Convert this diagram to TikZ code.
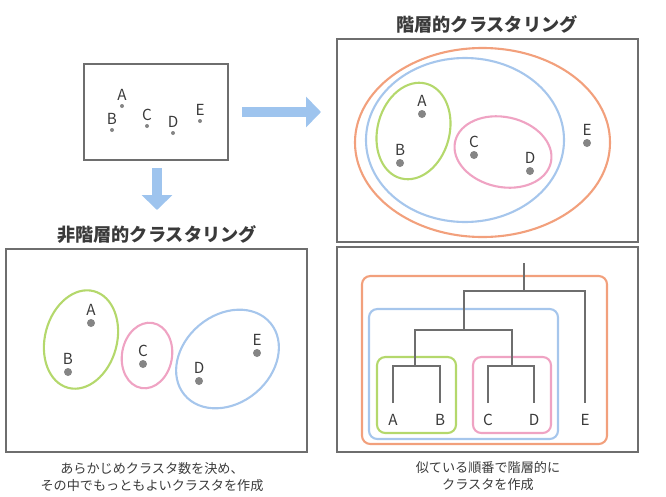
\documentclass[tikz,border=0pt]{standalone}
\usepackage{fontspec}
\setmainfont{Noto Sans CJK JP}
\usetikzlibrary{arrows.meta, positioning, shapes.geometric}
\definecolor{boxGray}{HTML}{6E6E6E}
\definecolor{dotGray}{HTML}{858585}
\definecolor{textDark}{HTML}{3A3A3A}
\definecolor{arrowBlue}{HTML}{9EC4EE}
\definecolor{clOrange}{HTML}{F2A07C}
\definecolor{clBlue}{HTML}{A6C6EC}
\definecolor{clGreen}{HTML}{B4D86C}
\definecolor{clPink}{HTML}{EFA3C3}

\begin{document}
\begin{tikzpicture}[x=0.03cm, y=-0.03cm,
    panel/.style={draw=boxGray, line width=1pt},
    dot/.style={circle, fill=dotGray, inner sep=0pt, minimum size=0.24cm},
    ptlabel/.style={font=\fontsize{13}{13}\selectfont, text=textDark, inner sep=0pt},
    cluster/.style={draw=#1, line width=1.8pt, ellipse, inner sep=0pt},
    group/.style={draw=#1, line width=1.8pt, rounded corners=0.25cm},
    title/.style={font=\fontsize{15.5}{16}\selectfont\bfseries, text=textDark},
    caption/.style={font=\fontsize{11.2}{14}\selectfont, text=textDark, align=center},
    bigarrow/.style={draw=arrowBlue, line width=0.3cm, -{Triangle[length=0.45cm, width=0.9cm]}},
    tree/.style={draw=boxGray, line width=1.1pt}]
    \useasboundingbox (0,0) rectangle (666,496);

    % raw data
    \draw[panel] (84,64) rectangle (228,160);
    \foreach \p/\x/\y in {A/122/106, B/112/130, C/147/126, D/173/133, E/200/121}{
      \node[dot, minimum size=0.12cm] (r\p) at (\x,\y) {};
      \node[ptlabel, above=0.1cm of r\p] {\p};
    }
    \coordinate (arRs) at (242,112);
    \coordinate (arRe) at (321,112);
    \coordinate (arDs) at (157,168);
    \coordinate (arDe) at (157,210);
    \draw[bigarrow] (arRs) -- (arRe);
    \draw[bigarrow] (arDs) -- (arDe);

    % hierarchical
    \node[title] (tHier) at (487,24) {階層的クラスタリング};
    \draw[panel] (337,39) rectangle (638,242);
    \node[cluster=clOrange, minimum width=7.65cm, minimum height=5.67cm] (hAll) at (482.5,142.5) {};
    \node[cluster=clBlue, minimum width=5.94cm, minimum height=4.92cm] (hABCD) at (465,140) {};
    \node[cluster=clGreen, minimum width=2.16cm, minimum height=2.94cm, rotate=-15] (hAB) at (413.5,131) {};
    \node[cluster=clPink, minimum width=2.94cm, minimum height=2.1cm, rotate=-12] (hCD) at (503,152) {};
    \foreach \p/\x/\y in {A/422/114, B/400/163, C/474/155, D/530/171, E/587/143}{
      \node[dot] (h\p) at (\x,\y) {};
      \node[ptlabel, above=0.1cm of h\p] {\p};
    }

    % dendrogram
    \draw[panel] (337,247) rectangle (638,452);
    \draw[group=clOrange] (362,276) rectangle (607,444);
    \draw[group=clBlue] (369,309) rectangle (558,439);
    \draw[group=clGreen] (377,357) rectangle (456,433);
    \draw[group=clPink] (473,357) rectangle (551,433);
    \foreach \p/\x in {A/393, B/440, C/488, D/534, E/585}{
      \coordinate (l\p) at (\x,403);
      \node[ptlabel] (n\p) at (\x,420) {\p};
    }
    \coordinate (jAB) at (415,366);
    \coordinate (jCD) at (512,366);
    \coordinate (jABCD) at (464,330);
    \coordinate (jRoot) at (524,291);
    \coordinate (jTop) at (524,263);
    \draw[tree] (lA) |- (jAB) -| (lB);
    \draw[tree] (lC) |- (jCD) -| (lD);
    \draw[tree] (jAB) |- (jABCD) -| (jCD);
    \draw[tree] (jABCD) |- (jRoot) -| (lE);
    \draw[tree] (jRoot) -- (jTop);
    \node[caption] (cHier) at (488,476) {似ている順番で階層的に\\クラスタを作成};

    % non-hierarchical
    \node[title] (tNon) at (157,235) {非階層的クラスタリング};
    \draw[panel] (6,249) rectangle (307,452);
    \node[cluster=clGreen, minimum width=2.16cm, minimum height=3cm, rotate=-15] (kAB) at (81,339.5) {};
    \node[cluster=clPink, minimum width=1.5cm, minimum height=1.98cm, rotate=-10] (kC) at (147,355.5) {};
    \node[cluster=clBlue, minimum width=3.36cm, minimum height=2.64cm, rotate=40] (kDE) at (227.5,359) {};
    \foreach \p/\x/\y in {A/91/323, B/68/372, C/143/364, D/199/381, E/257/353}{
      \node[dot] (k\p) at (\x,\y) {};
      \node[ptlabel, above=0.1cm of k\p] {\p};
    }
    \node[caption] (cNon) at (152,477) {あらかじめクラスタ数を決め、\\その中でもっともよいクラスタを作成};
  \end{tikzpicture}
\end{document}
